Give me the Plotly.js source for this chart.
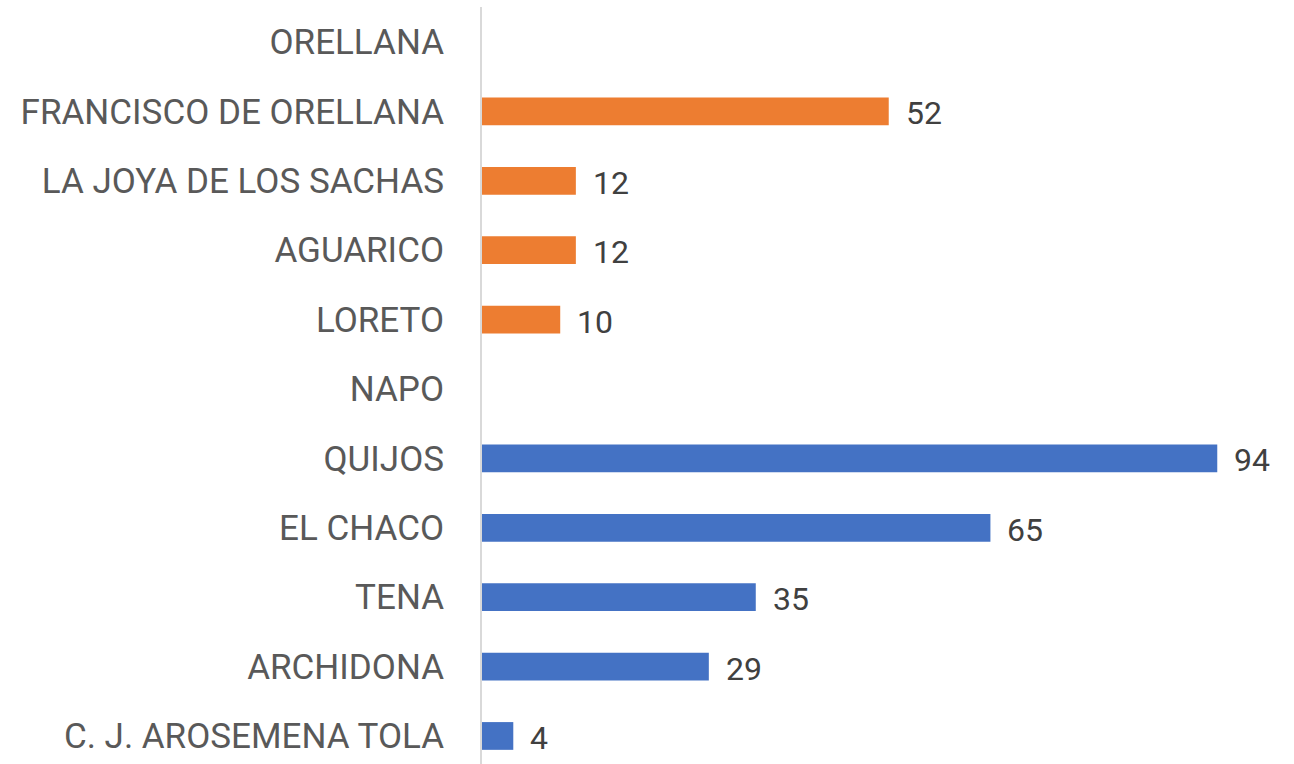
<!DOCTYPE html>
<html><head><meta charset="utf-8">
<script src="https://cdn.plot.ly/plotly-3.0.1.min.js"></script>
<style>body{margin:0;background:#fff}#chart{width:1294px;height:764px}</style>
</head><body><div id="chart"></div>
<script>
// top-to-bottom order as in the picture
const categories = ["ORELLANA","FRANCISCO DE ORELLANA","LA JOYA DE LOS SACHAS","AGUARICO","LORETO","NAPO","QUIJOS","EL CHACO","TENA","ARCHIDONA","C. J. AROSEMENA TOLA"];
const values = [null,52,12,12,10,null,94,65,35,29,4];
const groups = ["O","O","O","O","O","N","N","N","N","N","N"];
const groupColors = {O:"#ED7D31", N:"#4472C4"};

const cats = categories.slice().reverse();
const vals = values.slice().reverse();
const cols = groups.slice().reverse().map(g => groupColors[g]);

const annotations = [];
cats.forEach((c,i)=>{
  if (vals[i] !== null) annotations.push({x: vals[i], y: c, text: String(vals[i]), showarrow:false, xanchor:"left", xshift:15, yshift:-2,
    font:{family:"Roboto, sans-serif", size:32, color:"#404040"}});
});

const trace = {type:"bar", orientation:"h", y:cats, x:vals, marker:{color:cols}, width:0.4, hoverinfo:"x+y"};
const layout = {
  width:1294, height:764,
  margin:{l:482, r:4, t:7, b:0},
  paper_bgcolor:"#fff", plot_bgcolor:"#fff",
  showlegend:false,
  xaxis:{range:[0,103.3], visible:false, showgrid:false, zeroline:false},
  yaxis:{type:"category", range:[-0.404,10.505], showline:true, linecolor:"#d9d9d9", linewidth:2, ticks:"", showgrid:false, zeroline:false,
    ticklabelstandoff:29, tickfont:{family:"Roboto, sans-serif", size:35, color:"#595959"}},
  annotations: annotations,
  bargap:0.6
};
Plotly.newPlot("chart",[trace],layout,{staticPlot:true});
</script></body></html>
